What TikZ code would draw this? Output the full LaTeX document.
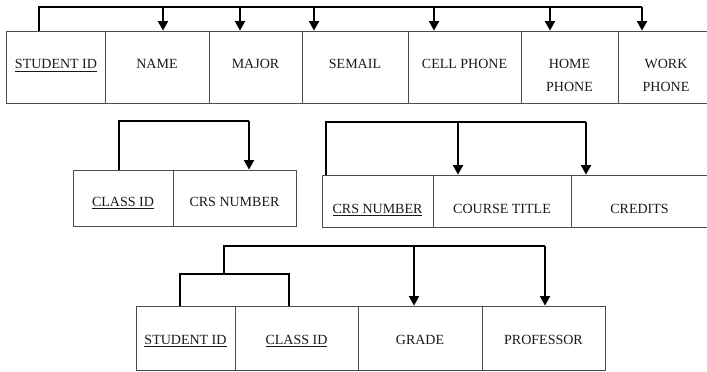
\documentclass[tikz,border=0pt]{standalone}
\usepackage{fontspec}
\setmainfont{Liberation Serif}
\usetikzlibrary{arrows.meta}
% underlined key attribute
\newcommand\keyattr[1]{\setbox0\hbox{#1}\rlap{\rule[-2.8pt]{\wd0}{0.6pt}}\box0}
\begin{document}
\begin{tikzpicture}[x=1pt,y=-1pt,
  cell/.style={draw=black!70, line width=0.8pt, inner sep=0pt, rectangle},
  lbl/.style={font=\fontsize{14}{16}\selectfont, text=black!90, inner sep=0pt, anchor=base},
  brk/.style={line width=1.4pt, black},
  arr/.style={line width=1.9pt, black, -{Triangle[width=10pt,length=9.5pt]}}]
\useasboundingbox (0,0) rectangle (707,372);

% ---- STUDENT table ----
\node[cell, minimum width=99pt,  minimum height=72pt] (sid)    at (55.5,67)  {};
\node[cell, minimum width=104pt, minimum height=72pt] (name)   at (157,67)   {};
\node[cell, minimum width=93pt,  minimum height=72pt] (major)  at (255.5,67) {};
\node[cell, minimum width=106pt, minimum height=72pt] (semail) at (355,67)   {};
\node[cell, minimum width=113pt, minimum height=72pt] (cellph) at (464.5,67) {};
\node[cell, minimum width=97pt,  minimum height=72pt] (homeph) at (569.5,67) {};
\node[cell, minimum width=89pt,  minimum height=72pt] (workph) at (662.5,67) {};

\node[lbl] (tsid)    at (56,68.5)    {\keyattr{STUDENT ID}};
\node[lbl] (tname)   at (157,68.5)   {NAME};
\node[lbl] (tmajor)  at (255.5,68.5) {MAJOR};
\node[lbl] (tsemail) at (355,68.5)   {SEMAIL};
\node[lbl] (tcell)   at (464.5,68.5) {CELL PHONE};
\node[lbl] (thome1)  at (569.5,68.5) {HOME};
\node[lbl] (thome2)  at (569.5,91.5) {PHONE};
\node[lbl] (twork1)  at (666,68.5)   {WORK};
\node[lbl] (twork2)  at (666,91.5)   {PHONE};

\coordinate (s0) at (39,7);
\coordinate (s1) at (163,7);
\coordinate (s2) at (240,7);
\coordinate (s3) at (314,7);
\coordinate (s4) at (434,7);
\coordinate (s5) at (550,7);
\coordinate (s6) at (642,7);
\draw[brk] (s0 |- sid.north) -- (s0) -- (s6);
\draw[arr] (s1) -- (s1 |- name.north);
\draw[arr] (s2) -- (s2 |- major.north);
\draw[arr] (s3) -- (s3 |- semail.north);
\draw[arr] (s4) -- (s4 |- cellph.north);
\draw[arr] (s5) -- (s5 |- homeph.north);
\draw[arr] (s6) -- (s6 |- workph.north);

% ---- CLASS table ----
\node[cell, minimum width=100pt, minimum height=56pt] (clsid) at (123,198)   {};
\node[cell, minimum width=123pt, minimum height=56pt] (crsno) at (234.5,198) {};
\node[lbl] (tclsid) at (123,206)   {\keyattr{CLASS ID}};
\node[lbl] (tcrsno) at (234.5,206) {CRS NUMBER};

\coordinate (c0) at (119,121);
\coordinate (c1) at (249,121);
\draw[brk] (c0 |- clsid.north) -- (c0) -- (c1);
\draw[arr] (c1) -- (c1 |- crsno.north);

% ---- COURSE table ----
\node[cell, minimum width=111pt, minimum height=52pt] (crskey) at (377.5,201) {};
\node[cell, minimum width=138pt, minimum height=52pt] (title)  at (502,201)   {};
\node[cell, minimum width=137pt, minimum height=52pt] (cred)   at (639.5,201) {};
\node[lbl] (tcrskey) at (377.5,213) {\keyattr{CRS NUMBER}};
\node[lbl] (ttitle)  at (502,213)   {COURSE TITLE};
\node[lbl] (tcred)   at (639.5,213) {CREDITS};

\coordinate (k0) at (326,122);
\coordinate (k1) at (458,122);
\coordinate (k2) at (586,122);
\draw[brk] (k0 |- crskey.north) -- (k0) -- (k2);
\draw[arr] (k1) -- (k1 |- title.north);
\draw[arr] (k2) -- (k2 |- cred.north);

% ---- ENROLLMENT table ----
\node[cell, minimum width=99pt,  minimum height=64pt] (esid)  at (185.5,338) {};
\node[cell, minimum width=123pt, minimum height=64pt] (ecls)  at (296.5,338) {};
\node[cell, minimum width=124pt, minimum height=64pt] (grade) at (420,338)   {};
\node[cell, minimum width=123pt, minimum height=64pt] (prof)  at (543.5,338) {};
\node[lbl] (tesid)  at (185.5,344) {\keyattr{STUDENT ID}};
\node[lbl] (tecls)  at (296.5,344) {\keyattr{CLASS ID}};
\node[lbl] (tgrade) at (420,344)   {GRADE};
\node[lbl] (tprof)  at (543.5,344) {PROFESSOR};

\coordinate (e0) at (180,274);
\coordinate (e1) at (289,274);
\coordinate (e2) at (224,274);
\coordinate (e3) at (224,246);
\coordinate (e4) at (414,246);
\coordinate (e5) at (545,246);
\draw[brk] (e0 |- esid.north) -- (e0) -- (e1) -- (e1 |- ecls.north);
\draw[brk] (e2) -- (e3) -- (e5);
\draw[arr] (e4) -- (e4 |- grade.north);
\draw[arr] (e5) -- (e5 |- prof.north);
\end{tikzpicture}
\end{document}
